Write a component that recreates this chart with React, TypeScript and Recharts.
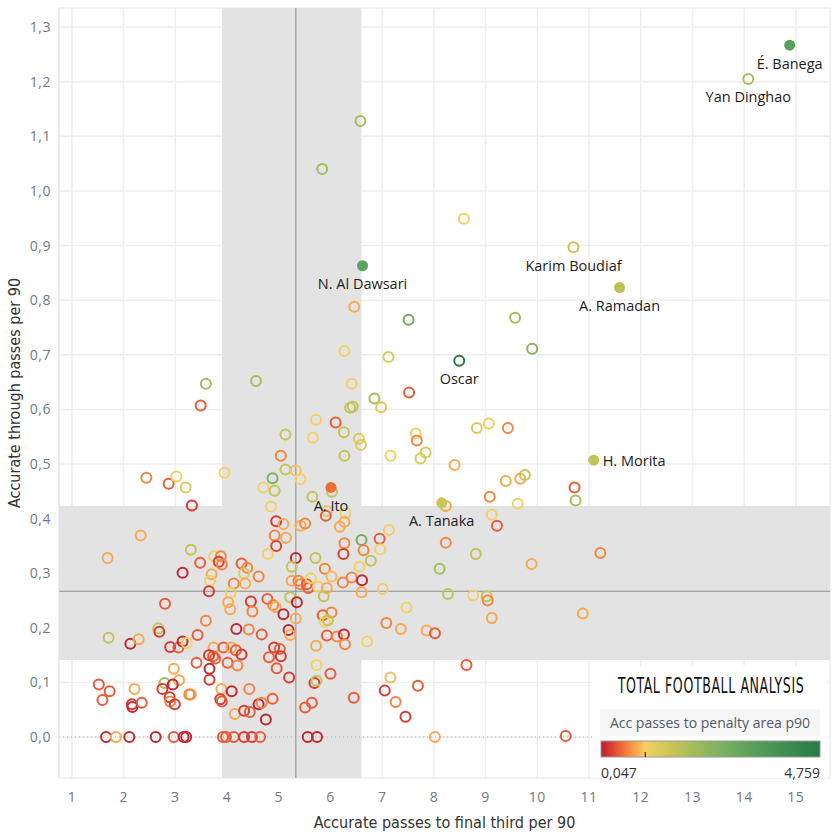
import {
  ScatterChart,
  Scatter,
  XAxis,
  YAxis,
  CartesianGrid,
  ReferenceArea,
  ReferenceLine,
} from "recharts";

// Accurate passes to final third per 90
const finalThird = [
  3.59, 4.56, 3.49, 2.44, 2.87, 3.02, 3.2, 3.95, 3.32, 2.33,
  3.3, 6.41, 7.52, 6.85, 6.98, 6.38, 6.43, 5.72, 6.1, 5.13,
  5.66, 6.26, 6.55, 6.59, 7.65, 7.67, 7.84, 7.74, 7.16, 5.04,
  6.27, 5.13, 5.33, 5.42, 4.88, 4.7, 4.92, 6.03, 5.65, 4.85,
  5.93, 6.29, 5.91, 4.95, 5.09, 5.42, 5.51, 6.27, 6.18, 7.13,
  6.95, 6.6, 4.92, 5.14, 4.95, 6.27, 8.23, 8.23, 7.12, 8.83,
  9.06, 9.43, 8.4, 9.39, 9.67, 9.76, 10.72, 10.74, 9.08, 9.62,
  9.12, 9.22, 11.22, 3.75, 3.88, 1.69, 3.48, 3.84, 3.9, 4.28,
  4.39, 4.33, 3.14, 3.7, 3.67, 4.13, 4.35, 3.65, 4.07, 4.02,
  4.06, 4.46, 4.49, 2.8, 3.59, 4.18, 4.42, 2.67, 2.69, 1.71,
  2.13, 2.29, 2.9, 3.06, 3.14, 3.22, 3.43, 3.74, 3.77, 3.73,
  3.93, 3.65, 4.08, 4.17, 4.28, 3.66, 3.66, 3.41, 4.01, 4.2,
  2.97, 3.07, 2.79, 2.75, 2.95, 1.52, 1.73, 1.59, 2.21, 2.16,
  2.17, 2.35, 2.89, 2.9, 2.99, 3.3, 3.27, 3.89, 4.09, 3.87,
  3.9, 4.43, 4.15, 4.33, 4.44, 4.61, 1.66, 1.85, 2.11, 2.62,
  2.97, 3.16, 3.21, 3.92, 3.98, 4.13, 4.33, 4.48, 4.64, 4.79,
  5.33, 5.71, 6.25, 6.64, 6.96, 5.25, 5.89, 6.56, 6.78, 8.11,
  4.61, 5.25, 5.38, 5.42, 5.54, 5.57, 5.62, 5.76, 5.93, 5.87,
  6.02, 6.24, 6.41, 6.61, 6.6, 7.01, 8.27, 4.78, 4.89, 4.94,
  5.09, 5.22, 5.35, 5.33, 5.85, 6.02, 5.89, 5.95, 5.19, 5.22,
  4.67, 5.93, 6.13, 6.26, 6.28, 5.72, 6.71, 7.08, 7.36, 7.47,
  7.86, 8.02, 4.91, 5.02, 5.04, 4.81, 4.96, 5.2, 5.73, 6.0,
  5.69, 5.73, 4.88, 4.67, 4.75, 5.51, 5.64, 6.45, 5.56, 5.74,
  7.16, 7.05, 7.69, 7.26, 7.45, 8.02, 8.81, 9.89, 8.76, 9.02,
  9.04, 9.12, 10.88, 8.63, 10.55, 6.58, 5.84, 6.46, 7.51, 6.27,
  8.58, 9.57, 9.9,
];

// Accurate through passes per 90
const throughPasses = [
  0.647, 0.652, 0.607, 0.475, 0.464, 0.477, 0.457, 0.484, 0.424, 0.369,
  0.343, 0.647, 0.631, 0.62, 0.604, 0.603, 0.605, 0.581, 0.576, 0.554,
  0.548, 0.558, 0.546, 0.535, 0.556, 0.543, 0.521, 0.51, 0.515, 0.515,
  0.515, 0.49, 0.488, 0.472, 0.474, 0.457, 0.451, 0.449, 0.44, 0.422,
  0.414, 0.41, 0.405, 0.395, 0.39, 0.387, 0.391, 0.394, 0.385, 0.379,
  0.363, 0.361, 0.369, 0.365, 0.35, 0.355, 0.423, 0.356, 0.696, 0.566,
  0.574, 0.566, 0.498, 0.469, 0.473, 0.48, 0.457, 0.433, 0.44, 0.427,
  0.407, 0.387, 0.337, 0.331, 0.331, 0.328, 0.319, 0.321, 0.316, 0.318,
  0.31, 0.3, 0.301, 0.298, 0.286, 0.281, 0.281, 0.267, 0.264, 0.247,
  0.234, 0.248, 0.23, 0.244, 0.213, 0.198, 0.197, 0.199, 0.193, 0.182,
  0.171, 0.179, 0.165, 0.164, 0.175, 0.172, 0.187, 0.164, 0.144, 0.148,
  0.164, 0.15, 0.164, 0.159, 0.151, 0.125, 0.105, 0.136, 0.136, 0.131,
  0.125, 0.104, 0.099, 0.088, 0.096, 0.096, 0.084, 0.068, 0.088, 0.06,
  0.055, 0.063, 0.073, 0.065, 0.06, 0.078, 0.078, 0.088, 0.084, 0.069,
  0.065, 0.088, 0.042, 0.048, 0.046, 0.06, 0, 0, 0, 0,
  0, 0, 0, 0, 0, 0, 0, 0, 0, 0.335,
  0.328, 0.328, 0.335, 0.342, 0.344, 0.312, 0.308, 0.312, 0.323, 0.308,
  0.294, 0.286, 0.286, 0.28, 0.28, 0.273, 0.291, 0.275, 0.273, 0.258,
  0.294, 0.283, 0.292, 0.287, 0.265, 0.271, 0.262, 0.253, 0.242, 0.238,
  0.225, 0.256, 0.247, 0.217, 0.223, 0.228, 0.211, 0.214, 0.196, 0.187,
  0.188, 0.186, 0.184, 0.188, 0.17, 0.167, 0.175, 0.209, 0.198, 0.237,
  0.195, 0.19, 0.164, 0.161, 0.148, 0.146, 0.126, 0.109, 0.132, 0.116,
  0.099, 0.103, 0.07, 0.063, 0.032, 0.054, 0.063, 0.072, 0, 0,
  0.109, 0.085, 0.094, 0.064, 0.037, 0, 0.335, 0.317, 0.259, 0.258,
  0.25, 0.218, 0.226, 0.132, 0.002, 1.128, 1.04, 0.788, 0.764, 0.707,
  0.949, 0.768, 0.711,
];

// Acc passes to penalty area p90 (colour)
const penaltyArea = [
  2.0, 2.0, 0.42, 0.62, 0.42, 1.0, 1.3, 1.0, 0.25, 0.82,
  1.6, 1.0, 0.42, 2.0, 1.3, 1.6, 1.6, 1.0, 0.42, 1.6,
  1.0, 1.6, 1.3, 1.3, 1.0, 0.62, 1.3, 1.3, 1.0, 0.62,
  1.6, 1.6, 0.95, 1.0, 2.6, 1.0, 1.6, 1.6, 1.6, 1.0,
  1.3, 1.0, 0.42, 0.25, 0.82, 0.82, 0.62, 0.82, 0.82, 1.0,
  0.42, 2.8, 0.62, 0.82, 0.3, 0.62, 0.82, 0.62, 1.3, 1.3,
  1.0, 0.62, 0.82, 0.82, 0.82, 1.6, 0.42, 2.0, 0.62, 1.0,
  1.0, 0.42, 0.62, 1.0, 0.62, 0.82, 0.42, 0.25, 0.62, 0.42,
  0.62, 1.3, 0.1, 0.82, 1.0, 0.62, 0.82, 0.25, 1.0, 0.82,
  0.82, 0.25, 0.62, 0.42, 0.62, 0.1, 0.62, 1.6, 0.25, 1.6,
  0.1, 0.82, 0.25, 0.42, 0.1, 1.0, 0.42, 0.82, 0.42, 0.42,
  0.42, 0.25, 0.82, 0.42, 0.25, 0.1, 0.25, 0.42, 0.42, 0.62,
  0.82, 0.82, 2.0, 0.25, 0.1, 0.42, 0.42, 0.42, 0.82, 0.25,
  0.1, 0.42, 0.25, 0.62, 0.25, 0.82, 0.62, 0.82, 0.1, 0.25,
  0.42, 0.62, 0.82, 0.25, 0.42, 0.1, 0.1, 0.82, 0.1, 0.1,
  0.42, 0.1, 0.1, 0.42, 0.42, 0.42, 0.25, 0.25, 0.42, 1.0,
  0.1, 1.6, 0.25, 0.62, 1.0, 1.6, 0.62, 1.0, 1.6, 2.0,
  0.62, 0.82, 0.62, 0.62, 0.42, 0.42, 1.0, 1.0, 0.82, 1.6,
  0.9, 0.62, 0.62, 0.1, 0.82, 1.0, 1.6, 0.42, 0.62, 0.82,
  0.1, 1.6, 0.1, 0.82, 0.42, 0.62, 1.0, 1.6, 0.1, 0.82,
  0.42, 0.42, 0.62, 0.1, 0.62, 0.82, 1.0, 0.62, 0.82, 1.0,
  0.82, 0.42, 0.25, 0.42, 0.25, 0.42, 0.42, 0.25, 1.0, 0.42,
  0.25, 1.6, 0.42, 0.62, 0.1, 0.42, 0.42, 0.42, 0.1, 0.1,
  0.9, 0.25, 0.42, 0.62, 0.25, 0.82, 1.6, 0.82, 1.0, 1.6,
  0.62, 0.82, 0.82, 0.42, 0.42, 2.0, 2.0, 0.82, 2.8, 1.0,
  1.0, 2.0, 2.5,
];

// named players
const playerNames = ["É. Banega", "Yan Dinghao", "Karim Boudiaf", "A. Ramadan", "N. Al Dawsari", "Oscar", "H. Morita", "A. Ito", "A. Tanaka"];
const playerFinalThird = [14.88, 14.08, 10.7, 11.59, 6.62, 8.49, 11.09, 6.01, 8.15];
const playerThrough = [1.267, 1.205, 0.897, 0.823, 0.863, 0.689, 0.507, 0.457, 0.429];
const playerPenaltyArea = [3.3, 2.0, 1.6, 1.7, 3.2, 4.759, 1.6, 0.5, 1.5];
const playerHollow = [false, true, true, false, false, true, false, false, false];

const xTicks = [1, 2, 3, 4, 5, 6, 7, 8, 9, 10, 11, 12, 13, 14, 15];
const yTicks = [0, 0.1, 0.2, 0.3, 0.4, 0.5, 0.6, 0.7, 0.8, 0.9, 1.0, 1.1, 1.2, 1.3];

const avgX = 5.33;
const avgY = 0.267;
const bandX = [3.9, 6.6];
const bandY = [0.141, 0.423];
const colorMin = 0.047;
const colorMax = 4.759;

const stops: [number, string][] = [
  [0.047, "#b81f34"],
  [0.25, "#d83a31"],
  [0.45, "#ec6238"],
  [0.65, "#f78a42"],
  [0.85, "#fbae52"],
  [1.0, "#f2d063"],
  [1.3, "#dccb5a"],
  [1.6, "#c4c355"],
  [2.0, "#a6bd5c"],
  [2.8, "#72ad5f"],
  [3.5, "#4f9c5a"],
  [4.759, "#277a46"],
];

const hex = (h: string) => [1, 3, 5].map((i) => parseInt(h.slice(i, i + 2), 16));

function colorFor(v: number) {
  if (v <= stops[0][0]) return stops[0][1];
  for (let i = 1; i < stops.length; i++) {
    if (v <= stops[i][0]) {
      const t = (v - stops[i - 1][0]) / (stops[i][0] - stops[i - 1][0]);
      const a = hex(stops[i - 1][1]);
      const b = hex(stops[i][1]);
      return `rgb(${a.map((c, k) => Math.round(c + (b[k] - c) * t)).join(",")})`;
    }
  }
  return stops[stops.length - 1][1];
}

const points = finalThird.map((x, i) => ({ x, y: throughPasses[i], v: penaltyArea[i] }));
const players = playerNames.map((name, i) => ({
  name,
  x: playerFinalThird[i],
  y: playerThrough[i],
  v: playerPenaltyArea[i],
  hollow: playerHollow[i],
}));

const comma = (v: number, d: number) => v.toFixed(d).replace(".", ",");

const HollowDot = (props: any) => {
  const { cx, cy, payload } = props;
  if (cx == null || cy == null) return null;
  return <circle cx={cx} cy={cy} r={5} fill="none" stroke={colorFor(payload.v)} strokeWidth={2} />;
};

const PlayerDot = (props: any) => {
  const { cx, cy, payload } = props;
  if (cx == null || cy == null) return null;
  const c = colorFor(payload.v);
  const right = payload.name === "H. Morita";
  return (
    <g>
      {payload.hollow ? (
        <circle cx={cx} cy={cy} r={5} fill="none" stroke={c} strokeWidth={2} />
      ) : (
        <circle cx={cx} cy={cy} r={5.5} fill={c} />
      )}
      <text
        x={right ? cx + 9 : cx}
        y={right ? cy : cy + 18}
        textAnchor={right ? "start" : "middle"}
        dominantBaseline="central"
        fontSize={14.5}
        fontFamily="'Open Sans', sans-serif"
        fill="#1c1c1c"
      >
        {payload.name}
      </text>
    </g>
  );
};

const tickStyle = { fontSize: 14, fill: "#6f7a88", fontFamily: "'Open Sans', sans-serif", letterSpacing: 0.5 };
const titleFont = "'Liberation Sans Narrow', 'DejaVu Sans Condensed', sans-serif";

function ColorLegend() {
  const bx = 601, bw = 219;
  const tickPos = bx + ((1.0 - colorMin) / (colorMax - colorMin)) * bw;
  return (
    <svg width={836} height={836} style={{ position: "absolute", left: 0, top: 0, pointerEvents: "none" }}>
      <defs>
        <linearGradient id="pen" x1="0" x2="1" y1="0" y2="0">
          {stops.map(([v, c]) => (
            <stop key={v} offset={(v - colorMin) / (colorMax - colorMin)} stopColor={c} />
          ))}
        </linearGradient>
      </defs>
      <rect x={592} y={666} width={236} height={112} fill="#fff" />
      <g transform="translate(711 685) scale(1 1.5)">
        <text x={0} y={0} textAnchor="middle" dominantBaseline="central" fontSize={14} fontFamily={titleFont} fill="#111" letterSpacing={0.6}>
          TOTAL FOOTBALL ANALYSIS
        </text>
      </g>
      <rect x={600} y={709} width={220} height={27} fill="#f6f6f6" />
      <text x={710} y={722} textAnchor="middle" dominantBaseline="central" fontSize={14} fontFamily="'Open Sans', sans-serif" fill="#505a66">
        Acc passes to penalty area p90
      </text>
      <rect x={bx} y={741} width={bw} height={16} fill="url(#pen)" stroke="#9a9a9a" strokeWidth={1} />
      <line x1={tickPos} x2={tickPos} y1={752} y2={757} stroke="#111" strokeWidth={1} />
      <text x={bx} y={772} dominantBaseline="central" fontSize={14} fontFamily="'Open Sans', sans-serif" fill="#333">
        {comma(colorMin, 3)}
      </text>
      <text x={bx + bw} y={772} textAnchor="end" dominantBaseline="central" fontSize={14} fontFamily="'Open Sans', sans-serif" fill="#333">
        {comma(colorMax, 3)}
      </text>
    </svg>
  );
}

export default function App() {
  return (
    <div style={{ position: "absolute", left: 0, top: 0, width: 836, height: 836, background: "#fff" }}>
      <ScatterChart width={836} height={836} margin={{ top: 8, right: 6, bottom: 8, left: 4 }}>
        <ReferenceArea x1={bandX[0]} x2={bandX[1]} fill="#e3e3e3" fillOpacity={1} stroke="none" ifOverflow="hidden" />
        <ReferenceArea y1={bandY[0]} y2={bandY[1]} fill="#e3e3e3" fillOpacity={1} stroke="none" ifOverflow="hidden" />
        <CartesianGrid stroke="#eeeeee" strokeWidth={1.5} />
        <XAxis
          type="number"
          dataKey="x"
          domain={[0.75, 15.66]}
          ticks={xTicks}
          tickLine={false}
          axisLine={false}
          tick={tickStyle}
          tickMargin={8}
          height={50}
          label={{ value: "Accurate passes to final third per 90", position: "insideBottom", offset: 0, style: { fontSize: 16, fill: "#333", fontFamily: titleFont } }}
        />
        <YAxis
          type="number"
          dataKey="y"
          domain={[-0.075, 1.335]}
          ticks={yTicks}
          tickLine={false}
          axisLine={{ stroke: "#e6e6e6" }}
          tick={tickStyle}
          tickFormatter={(v) => comma(v, 1)}
          width={55}
          label={{ value: "Accurate through passes per 90", angle: -90, position: "insideLeft", offset: 10, style: { textAnchor: "middle", fontSize: 16, fill: "#333", fontFamily: titleFont } }}
        />
        <ReferenceLine y={0} stroke="#b0b0b0" strokeDasharray="1 3" />
        <ReferenceLine x={avgX} stroke="#8c8c8c" />
        <ReferenceLine y={avgY} stroke="#8c8c8c" />
        <Scatter data={points} isAnimationActive={false} shape={HollowDot} />
        <Scatter data={players} isAnimationActive={false} shape={PlayerDot} />
      </ScatterChart>
      <ColorLegend />
    </div>
  );
}
